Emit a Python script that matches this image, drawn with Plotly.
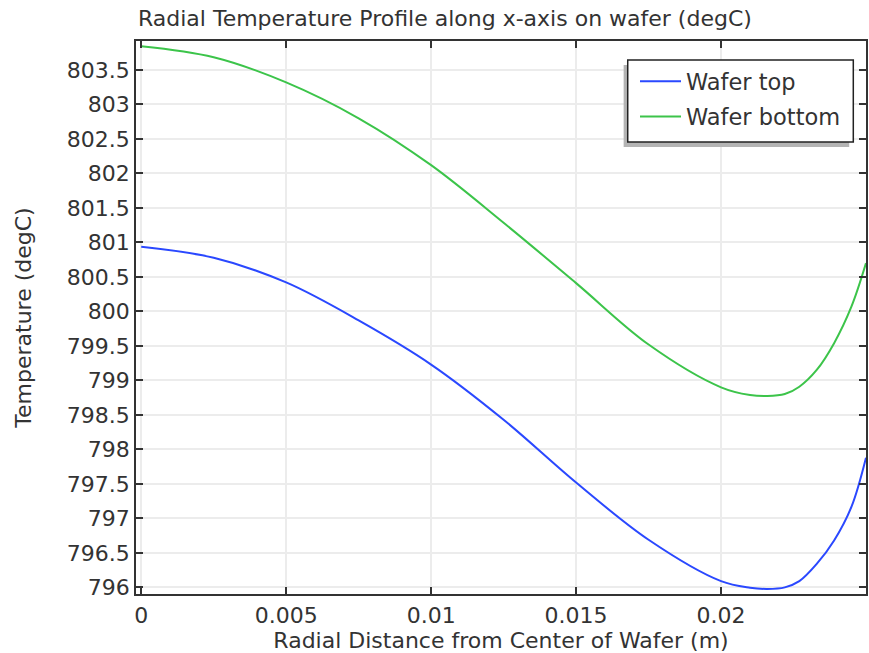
import plotly.graph_objects as go

# Radial distance (m)
x_vals = [0.0, 0.0025, 0.005, 0.0075, 0.01, 0.0125, 0.015, 0.0175, 0.02, 0.021,
          0.0216, 0.0222, 0.0227, 0.0233, 0.0239, 0.0245, 0.025]

# Wafer top temperature (degC)
wafer_top = [800.936, 800.777, 800.42, 799.87, 799.23, 798.43, 797.52, 796.69, 796.09, 795.995,
             795.977, 796.00, 796.09, 796.34, 796.68, 797.17, 797.88]

# Wafer bottom temperature (degC)
wafer_bottom = [803.845, 803.685, 803.32, 802.80, 802.12, 801.285, 800.41, 799.52, 798.90, 798.788,
                798.773, 798.802, 798.909, 799.152, 799.54, 800.072, 800.70]

x_ticks = [0, 0.005, 0.01, 0.015, 0.02]
x_ticktext = ["0", "0.005", "0.01", "0.015", "0.02"]
y_ticks = [796, 796.5, 797, 797.5, 798, 798.5, 799, 799.5, 800, 800.5, 801, 801.5, 802, 802.5, 803, 803.5]
y_ticktext = ["796", "796.5", "797", "797.5", "798", "798.5", "799", "799.5", "800", "800.5",
              "801", "801.5", "802", "802.5", "803", "803.5"]

FONT = "DejaVu Sans"
TXT = "#333333"

fig = go.Figure()
fig.add_trace(go.Scatter(x=x_vals, y=wafer_top, mode="lines", name="Wafer top", legendgroup="a",
                         line=dict(color="#2a48ff", width=2, shape="spline", smoothing=1.0)))
fig.add_trace(go.Scatter(x=x_vals, y=wafer_bottom, mode="lines", name="Wafer bottom", legendgroup="b",
                         line=dict(color="#3cc44a", width=2, shape="spline", smoothing=1.0)))

axis_common = dict(showline=True, linecolor="#333333", linewidth=1.5, mirror="ticks",
                   ticks="inside", ticklen=7, tickcolor="#333333", tickwidth=1.5,
                   showgrid=True, gridcolor="#ececec", gridwidth=2, zeroline=False,
                   automargin=False,
                   tickfont=dict(family=FONT, size=22, color=TXT))

fig.update_xaxes(range=[-0.00018, 0.025], tickvals=x_ticks, ticktext=x_ticktext,
                 title=dict(text="Radial Distance from Center of Wafer (m)",
                            font=dict(family=FONT, size=22, color=TXT), standoff=6),
                 ticklabelstandoff=1,
                 **axis_common)
fig.update_yaxes(range=[795.904, 803.92], tickvals=y_ticks, ticktext=y_ticktext,
                 title=dict(text="Temperature (degC)",
                            font=dict(family=FONT, size=22, color=TXT), standoff=29),
                 ticklabelstandoff=0,
                 **axis_common)

# legend drop shadow and frame (legend entries are drawn on top by plotly)
fig.add_shape(type="rect", xref="paper", yref="paper", x0=0.668, x1=0.977, y0=0.8083, y1=0.9566,
              fillcolor="#b4b4b4", line=dict(width=0), layer="above")
fig.add_shape(type="rect", xref="paper", yref="paper", x0=0.6736, x1=0.9826, y0=0.8174, y1=0.9656,
              fillcolor="white", line=dict(color="#222222", width=1.5), layer="above")

fig.update_layout(
    width=869, height=653,
    margin=dict(l=136, r=3, t=41, b=59),
    paper_bgcolor="white", plot_bgcolor="white",
    font=dict(family=FONT, size=22, color=TXT),
    title=dict(text="Radial Temperature Profile along x-axis on wafer (degC)",
               font=dict(family=FONT, size=22, color=TXT),
               xref="container", x=138 / 869, xanchor="left",
               yref="container", y=1 - 18 / 653, yanchor="middle", pad=dict(l=0, r=0, t=0, b=0)),
    legend=dict(x=(635 - 136) / 730, xanchor="left", y=0.9656, yanchor="top",
                bgcolor="rgba(0,0,0,0)", borderwidth=0,
                traceorder="grouped", tracegroupgap=3, itemwidth=41,
                font=dict(family=FONT, size=22.5, color=TXT)),
    showlegend=True,
)

fig.write_html("out.html", config={"displayModeBar": False},
               post_script="document.body.style.margin='0';document.body.style.overflow='hidden';")
